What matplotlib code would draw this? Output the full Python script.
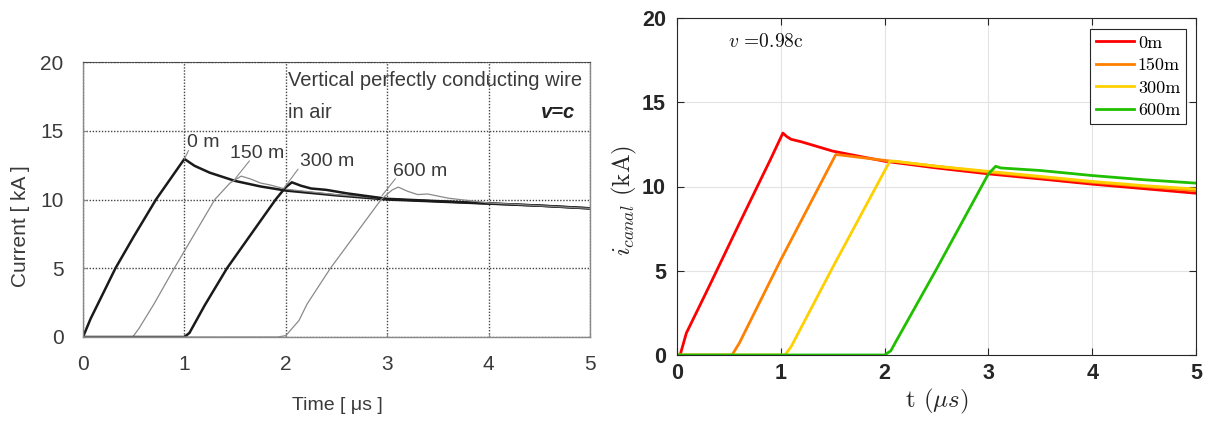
import matplotlib
matplotlib.use("Agg")
import matplotlib.pyplot as plt

# ---------------- Left panel data (v = c, reference) ----------------
tL_0 = [0, 0.075, 0.2, 0.32, 0.5, 0.72, 0.9, 1.0, 1.1, 1.25, 1.5, 1.75, 2.0, 2.5, 3.0, 3.5, 4.0, 4.5, 5.0]
iL_0 = [0, 1.33, 3.2, 5.0, 7.3, 10.0, 11.9, 12.95, 12.45, 11.95, 11.35, 10.95, 10.65, 10.3, 10.0, 9.85, 9.7, 9.55, 9.35]

tL_150 = [0, 0.49, 0.55, 0.7, 0.9, 1.1, 1.3, 1.45, 1.56, 1.65, 1.75, 1.85, 2.0, 2.5, 3.0, 3.5, 4.0, 4.5, 5.0]
iL_150 = [0, 0, 0.6, 2.4, 5.0, 7.5, 10.0, 11.2, 11.7, 11.5, 11.2, 11.05, 10.75, 10.35, 10.05, 9.9, 9.72, 9.57, 9.37]

tL_300 = [0, 1.0, 1.05, 1.11, 1.2, 1.42, 1.65, 1.9, 2.0, 2.06, 2.15, 2.25, 2.4, 2.6, 3.0, 3.5, 4.0, 4.5, 5.0]
iL_300 = [0, 0, 0.3, 1.1, 2.3, 5.0, 7.4, 10.0, 10.9, 11.25, 11.0, 10.8, 10.7, 10.45, 10.05, 9.88, 9.72, 9.56, 9.36]

tL_600 = [0, 1.92, 2.0, 2.13, 2.21, 2.44, 2.7, 2.94, 3.05, 3.11, 3.2, 3.3, 3.4, 3.6, 4.0, 4.5, 5.0]
iL_600 = [0, 0, 0.1, 1.2, 2.4, 5.0, 7.6, 10.0, 10.7, 10.9, 10.6, 10.36, 10.4, 10.1, 9.75, 9.55, 9.35]

# ---------------- Right panel data (v = 0.98c) ----------------
tR_0 = [0, 0.03, 0.09, 0.3, 0.6, 0.9, 1.02, 1.06, 1.1, 1.2, 1.5, 2.0, 2.5, 3.0, 3.5, 4.0, 4.5, 5.0]
iR_0 = [0, 0, 1.3, 3.95, 7.8, 11.6, 13.17, 12.95, 12.8, 12.65, 12.1, 11.5, 11.1, 10.75, 10.45, 10.14, 9.87, 9.6]

tR_150 = [0, 0.53, 0.6, 1.0, 1.53, 1.6, 2.0, 2.5, 3.0, 3.5, 4.0, 4.5, 5.0]
iR_150 = [0, 0, 0.7, 5.65, 11.9, 11.85, 11.55, 11.2, 10.85, 10.55, 10.25, 10.0, 9.75]

tR_300 = [0, 1.04, 1.1, 1.5, 2.05, 2.1, 2.5, 3.0, 3.5, 4.0, 4.5, 5.0]
iR_300 = [0, 0, 0.5, 5.2, 11.5, 11.5, 11.2, 10.9, 10.6, 10.3, 10.05, 9.85]

tR_600 = [0, 2.0, 2.06, 2.1, 2.5, 3.0, 3.07, 3.12, 3.5, 4.0, 4.5, 5.0]
iR_600 = [0, 0, 0.25, 0.7, 5.1, 10.75, 11.2, 11.1, 10.95, 10.65, 10.4, 10.2]

labels_L = ["0 m", "150 m", "300 m", "600 m"]
labels_R = ["0m", "150m", "300m", "600m"]
xticks = [0, 1, 2, 3, 4, 5]
yticks = [0, 5, 10, 15, 20]

W, H = 1209, 421
fig = plt.figure(figsize=(W / 100, H / 100), dpi=100)
plt.rcParams["mathtext.fontset"] = "cm"

# ================= Left panel =================
axL = fig.add_axes([83 / W, 1 - 337 / H, (590 - 83) / W, (337 - 62) / H])
gray_txt = "#3a3a3a"
sans = "Liberation Sans"
axL.plot(tL_0, iL_0, color="#1a1a1a", lw=1.8)
axL.plot(tL_150, iL_150, color="#8a8a8a", lw=0.9)
axL.plot(tL_300, iL_300, color="#1a1a1a", lw=1.8)
axL.plot(tL_600, iL_600, color="#8a8a8a", lw=0.9)
axL.set_xlim(0, 5)
axL.set_ylim(0, 20)
axL.set_xticks(xticks)
axL.set_yticks(yticks)
axL.grid(True, linestyle=(0, (1.0, 1.2)), color="#444444", lw=1.0)
for s in ["left", "bottom", "right"]:
    axL.spines[s].set_color("#888888")
    axL.spines[s].set_linewidth(1.0)
axL.spines["top"].set_linestyle((0, (1.0, 1.2)))
axL.spines["top"].set_color("#444444")
axL.tick_params(direction="in", length=3, color="#888888", labelcolor=gray_txt,
                labelsize=15)
axL.tick_params(axis="x", pad=13)
axL.tick_params(axis="y", pad=14)
for lab in axL.get_xticklabels() + axL.get_yticklabels():
    lab.set_fontfamily(sans)
fig.text(337 / W, 1 - 405 / H, "Time [ μs ]", fontsize=14, color=gray_txt, family=sans,
         ha="center", va="center")
fig.text(21 / W, 1 - 226 / H, "Current [ kA ]", fontsize=15, color=gray_txt, family=sans,
         ha="center", va="center", rotation=90)

axL.text(2.02, 18.69, "Vertical perfectly conducting wire", fontsize=14.5, color=gray_txt,
         family=sans, va="center", ha="left")
axL.text(2.02, 16.36, "in air", fontsize=14.5, color=gray_txt, family=sans,
         va="center", ha="left")
axL.text(4.85, 16.36, "v=c", fontsize=14.5, color="#222222", family=sans,
         style="italic", weight="bold", va="center", ha="right")

lbl_pos = [(1.03, 14.11), (1.45, 13.38), (2.14, 12.73), (3.06, 12.0)]
lead = [((1.0, 12.95), (1.04, 13.55)),
        ((1.5, 11.5), (1.64, 12.8)),
        ((1.98, 10.8), (2.12, 12.2)),
        ((2.95, 10.3), (3.08, 11.5))]
for lab, (x, y), (p0, p1) in zip(labels_L, lbl_pos, lead):
    axL.text(x, y, lab, fontsize=14, color=gray_txt, family=sans,
             va="center", ha="left")
    axL.plot([p0[0], p1[0]], [p0[1], p1[1]], color="#8a8a8a", lw=0.8)

# ================= Right panel =================
axR = fig.add_axes([677 / W, 1 - 355 / H, (1196 - 677) / W, (355 - 18) / H])
colors = ["#ff0000", "#ff8000", "#ffd000", "#20c000"]
for t, i, c, lab in zip([tR_0, tR_150, tR_300, tR_600],
                        [iR_0, iR_150, iR_300, iR_600], colors, labels_R):
    axR.plot(t, i, color=c, lw=2.0, label=lab)
axR.set_xlim(0, 5)
axR.set_ylim(0, 20)
axR.set_xticks(xticks)
axR.set_yticks(yticks)
axR.grid(True, color="#e3e3e3", lw=0.8)
axR.set_axisbelow(True)
for s in axR.spines.values():
    s.set_color("#262626")
    s.set_linewidth(0.8)
axR.tick_params(direction="in", length=5, color="#262626", top=True, right=True,
                labelsize=15.5)
axR.tick_params(axis="x", pad=6)
axR.tick_params(axis="y", pad=8)
for lab in axR.get_xticklabels() + axR.get_yticklabels():
    lab.set_fontfamily(sans)
    lab.set_fontweight("bold")
    lab.set_color("#262626")
axR.set_xlabel(r"t $(\mu s)$", fontsize=18, family="cmr10", color="#262626", labelpad=2)
fig.text(624 / W, 1 - 200 / H, r"$i_{canal}$ (kA)", fontsize=18, family="cmr10",
         color="#262626", ha="center", va="center", rotation=90)
axR.text(0.49, 18.58, r"$v$ =0.98c", fontsize=14, family="cmr10", color="#111111",
         va="center", ha="left")
leg = axR.legend(loc="upper right", bbox_to_anchor=(0.981, 0.967), fancybox=False,
                 framealpha=1, edgecolor="#262626", handlelength=2.1, handletextpad=0.2,
                 borderpad=0.33, labelspacing=0.38, borderaxespad=0.0,
                 prop={"family": "cmr10", "size": 13})
leg.get_frame().set_linewidth(0.8)

fig.savefig("out.png", dpi=100)
